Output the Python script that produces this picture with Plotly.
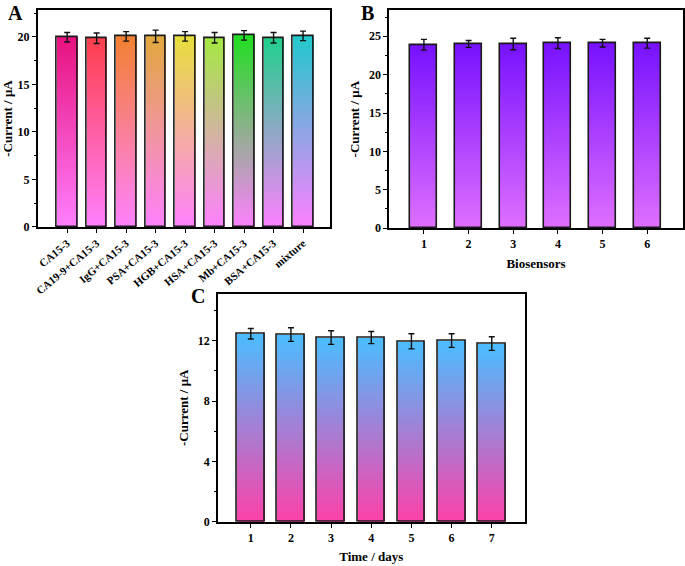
import plotly.graph_objects as go

# ---------------- data ----------------
a_labels = ["CA15-3", "CA19-9+CA15-3", "IgG+CA15-3", "PSA+CA15-3", "HGB+CA15-3",
            "HSA+CA15-3", "Mb+CA15-3", "BSA+CA15-3", "mixture"]
a_values = [19.95, 19.85, 20.05, 20.05, 20.05, 19.9, 20.15, 19.9, 20.1]
a_errors = [0.5, 0.55, 0.5, 0.65, 0.5, 0.55, 0.5, 0.55, 0.5]

b_labels = ["1", "2", "3", "4", "5", "6"]
b_values = [23.9, 24.0, 24.0, 24.1, 24.1, 24.1]
b_errors = [0.7, 0.45, 0.75, 0.7, 0.5, 0.65]

c_labels = ["1", "2", "3", "4", "5", "6", "7"]
c_values = [12.45, 12.4, 12.2, 12.2, 11.95, 12.0, 11.8]
c_errors = [0.35, 0.45, 0.45, 0.4, 0.5, 0.45, 0.45]

# gradient colours (top, bottom)
a_top = ["#E8127F", "#FF3F4E", "#F28032", "#E2A83E", "#E8DE3C", "#A4E842", "#22DE22", "#22D08E", "#22C8CC"]
a_bottom = "#FF80FF"
b_top, b_bottom = "#7812FF", "#E070FF"
c_top, c_bottom = "#4CBCFF", "#FF40A8"

FONT = "Liberation Serif"
N = 60


def hex2rgb(h):
    h = h.lstrip("#")
    return tuple(int(h[i:i + 2], 16) for i in (0, 2, 4))


def mix(c1, c2, t):
    a, b = hex2rgb(c1), hex2rgb(c2)
    return "rgb(%d,%d,%d)" % tuple(round(a[i] + (b[i] - a[i]) * t) for i in range(3))


fig = go.Figure()


def add_panel(xs, vals, errs, tops, bottom, width, xa, ya):
    n = len(xs)
    if isinstance(tops, str):
        tops = [tops] * n
    # nested bars, tallest first -> vertical gradient without seams
    for k in range(N, 0, -1):
        f = k / N
        fig.add_trace(go.Bar(
            x=list(range(n)),
            y=[v * f for v in vals],
            width=width,
            marker=dict(color=[mix(bottom, t, f) for t in tops], line=dict(width=0)),
            xaxis=xa, yaxis=ya, showlegend=False, hoverinfo="skip",
        ))
    fig.add_trace(go.Bar(
        x=list(range(n)), y=vals, width=width,
        marker=dict(color="rgba(0,0,0,0)", line=dict(color="#1a1a1a", width=1.6)),
        error_y=dict(type="data", array=errs, visible=True, color="#111111",
                     thickness=1.4, width=3),
        xaxis=xa, yaxis=ya, showlegend=False,
    ))


add_panel(a_labels, a_values, a_errors, a_top, a_bottom, 0.7, "x", "y")
add_panel(b_labels, b_values, b_errors, b_top, b_bottom, 0.61, "x2", "y2")
add_panel(c_labels, c_values, c_errors, c_top, c_bottom, 0.69, "x3", "y3")

tickfont = dict(family=FONT, size=12, color="black", weight="bold")
titlefont = dict(family=FONT, size=13, color="black", weight="bold")

common_x = dict(showline=True, linecolor="black", linewidth=1.6, mirror=True,
                ticks="outside", ticklen=4, tickwidth=1.3, tickcolor="black",
                showgrid=False, zeroline=False, tickfont=tickfont, automargin=False)
common_y = dict(showline=True, linecolor="black", linewidth=1.6, mirror=True,
                ticks="outside", ticklen=4, tickwidth=1.3, tickcolor="black",
                showgrid=False, zeroline=False, tickfont=tickfont, automargin=False,
                title=dict(text="-Current / μA", font=titlefont, standoff=6),
                minor=dict(ticks="outside", ticklen=2, tickwidth=1.1, tickcolor="black"))

panel_font = dict(family=FONT, size=20, color="black", weight="bold")

fig.update_layout(
    width=685, height=566,
    margin=dict(l=0, r=0, t=0, b=0, autoexpand=False),
    paper_bgcolor="white", plot_bgcolor="white",
    barmode="overlay", bargap=0,
    xaxis=dict(common_x, domain=[0.055, 0.482], anchor="y", range=[-1.0, 8.92],
               tickmode="array", tickvals=list(range(len(a_labels))), ticktext=a_labels,
               tickangle=-40, tickfont=dict(family=FONT, size=11, color="black", weight="bold")),
    yaxis=dict(common_y, domain=[0.599, 0.982], anchor="x", range=[0, 22.8],
               tickmode="linear", tick0=0, dtick=5, minor=dict(common_y["minor"], dtick=2.5)),
    xaxis2=dict(common_x, domain=[0.568, 0.997], anchor="y2", range=[-0.78, 5.8],
                tickmode="array", tickvals=list(range(len(b_labels))), ticktext=b_labels,
                title=dict(text="Biosensors", font=titlefont, standoff=9)),
    yaxis2=dict(common_y, domain=[0.597, 0.982], anchor="x2", range=[0, 28.4],
                tickmode="linear", tick0=0, dtick=5, minor=dict(common_y["minor"], dtick=2.5)),
    xaxis3=dict(common_x, domain=[0.318, 0.766], anchor="y3", range=[-0.82, 6.82],
                tickmode="array", tickvals=list(range(len(c_labels))), ticktext=c_labels,
                title=dict(text="Time / days", font=titlefont, standoff=8)),
    yaxis3=dict(common_y, domain=[0.078, 0.481], anchor="x3", range=[0, 15.1],
                tickmode="linear", tick0=0, dtick=4, minor=dict(common_y["minor"], dtick=2)),
    annotations=[
        dict(text="A", x=0.023, y=1.0, xref="paper", yref="paper", showarrow=False,
             xanchor="center", yanchor="top", font=panel_font),
        dict(text="B", x=0.536, y=1.0, xref="paper", yref="paper", showarrow=False,
             xanchor="center", yanchor="top", font=panel_font),
        dict(text="C", x=0.289, y=0.477, xref="paper", yref="paper", showarrow=False,
             xanchor="center", yanchor="middle", font=panel_font),
    ],
)

fig.write_html("out.html", config={"displayModeBar": False},
               post_script="document.body.style.margin='0px';document.body.style.overflow='hidden';")
